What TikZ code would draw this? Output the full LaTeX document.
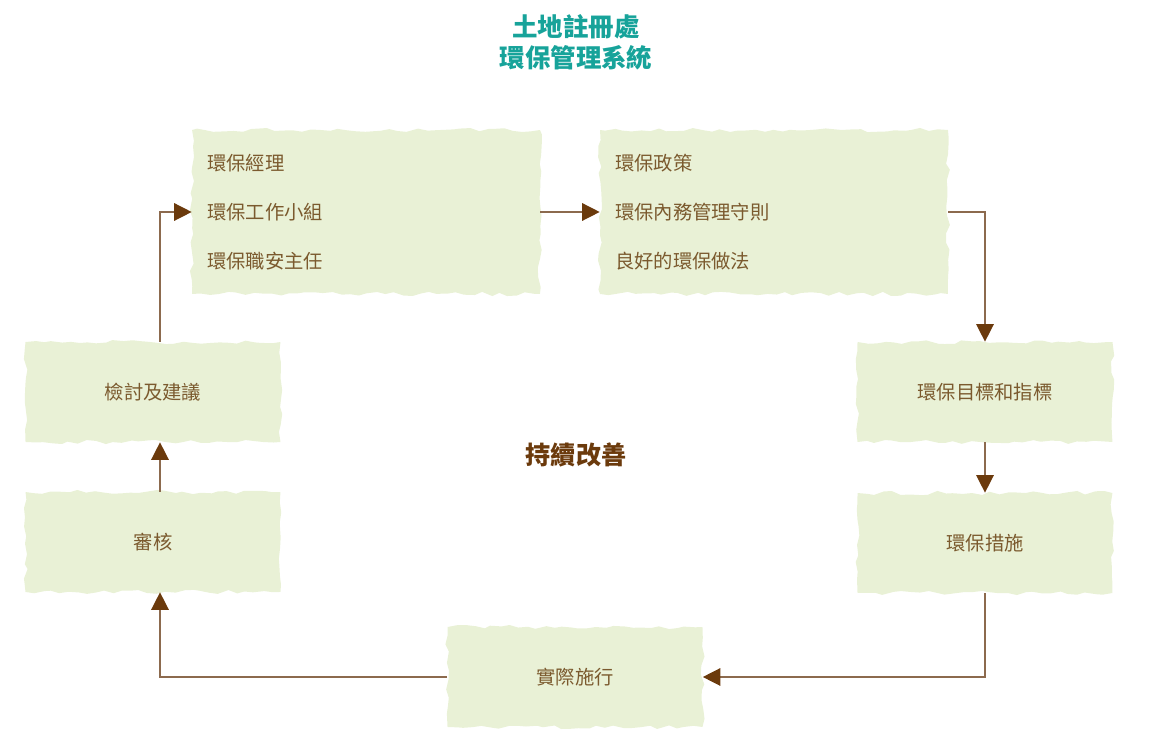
\documentclass[tikz,border=0pt]{standalone}
\usepackage{fontspec}
\setmainfont{Noto Sans CJK TC}
\usetikzlibrary{arrows.meta,decorations.pathmorphing}
\definecolor{boxgreen}{HTML}{E9F1D6}
\definecolor{boxtext}{HTML}{7B5A2E}
\definecolor{linebrown}{HTML}{8C6A4E}
\definecolor{tipbrown}{HTML}{6B3A0C}
\definecolor{titleteal}{HTML}{17A39A}

\begin{document}
\begin{tikzpicture}[x=0.02cm,y=-0.02cm,
  blk/.style={fill=boxgreen, text=boxtext, decorate, decoration={random steps,segment length=5pt,amplitude=1.2pt}, inner sep=0pt, font=\fontsize{11}{13}\selectfont},
  sml/.style={blk, minimum width=5.1cm, minimum height=2cm},
  big/.style={blk, minimum width=6.96cm, minimum height=3.28cm, text width=6.36cm, align=left, font=\fontsize{11}{27.8}\selectfont},
  flow/.style={draw=linebrown, line width=0.8pt, -{Triangle[length=10pt,width=10pt,color=tipbrown]}}]
\pgfmathsetseed{7}
\useasboundingbox (0,0) rectangle (1154,742);
% title and centre label
\node[text=titleteal, align=center, font=\fontsize{14.5}{17.6}\selectfont\bfseries] (ttl) at (576,42) {土地註冊處\\環保管理系統};
\node[text=tipbrown, font=\fontsize{14.3}{16}\selectfont\bfseries] (ctr) at (576,455) {持續改善};
% boxes
\node[big] (mem) at (366,212) {環保經理\\環保工作小組\\環保職安主任};
\node[big] (pol) at (774,212) {環保政策\\環保內務管理守則\\良好的環保做法};
\node[sml] (obj) at (985,392) {環保目標和指標};
\node[sml] (act) at (985,543) {環保措施};
\node[sml] (imp) at (575,677) {實際施行};
\node[sml] (aud) at (153,542) {審核};
\node[sml] (rev) at (153,392) {檢討及建議};
% cycle
\draw[flow] ([xshift=0.14cm]rev.north) |- (mem.west);
\draw[flow] (mem.east) -- (pol.west);
\draw[flow] (pol.east) -| (obj.north);
\draw[flow] (obj) -- (act);
\draw[flow] (act.south) |- (imp.east);
\draw[flow] (imp.west) -| ([xshift=0.14cm]aud.south);
\draw[flow] ([xshift=0.14cm]aud.north) -- ([xshift=0.14cm]rev.south);
\end{tikzpicture}
\end{document}
